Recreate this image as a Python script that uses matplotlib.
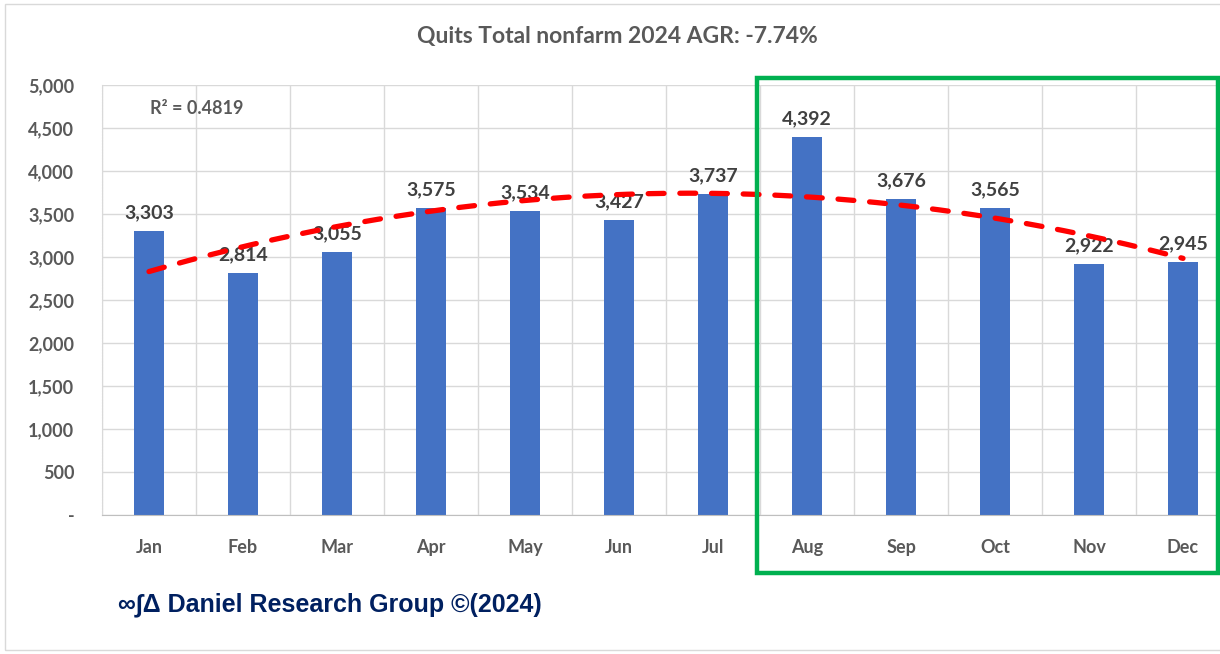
import matplotlib
matplotlib.use("Agg")
import matplotlib.pyplot as plt
import numpy as np
from matplotlib.patches import Rectangle
from matplotlib.ticker import FuncFormatter

# Chart data
months = ["Jan", "Feb", "Mar", "Apr", "May", "Jun", "Jul", "Aug", "Sep", "Oct", "Nov", "Dec"]
quits = [3303, 2814, 3055, 3575, 3534, 3427, 3737, 4392, 3676, 3565, 2922, 2945]
y_ticks = [0, 500, 1000, 1500, 2000, 2500, 3000, 3500, 4000, 4500, 5000]

title = "Quits Total nonfarm 2024 AGR: -7.74%"
r2_text = "R² = 0.4819"
footer = "∞∫Δ Daniel Research Group ©(2024)"

GRAY = "#595959"
BLUE = "#4472C4"
FONT = ["Lato", "DejaVu Sans"]

W, H = 1220, 654
fig = plt.figure(figsize=(W / 100, H / 100), dpi=100)
fig.patch.set_facecolor("white")


def px(x0, y0, x1, y1):
    # pixel box (top-left origin) -> figure fraction rect
    return [x0 / W, 1 - y1 / H, (x1 - x0) / W, (y1 - y0) / H]


ax = fig.add_axes(px(102, 85, 1230, 515))
x = np.arange(len(months))

ax.bar(x, quits, width=0.32, color=BLUE, zorder=2)

# polynomial (order 2) trendline, as in the spreadsheet
coef = np.polyfit(x + 1, quits, 2)
xs = np.linspace(0, len(months) - 1, 200)
trend = np.polyval(coef, xs + 1)
ax.plot(xs, trend, color="#FF0000", lw=3.8, linestyle=(0, (3.0, 3.0)),
        dash_capstyle="round", zorder=4)

for xi, v in zip(x, quits):
    ax.annotate(f"{v:,}", (xi, v), xytext=(0, 7), textcoords="offset points",
                ha="center", va="bottom", fontsize=14, fontweight="bold",
                color="#404040", family=FONT, zorder=3)

ax.set_xlim(-0.5, len(months) - 0.5)
ax.set_ylim(0, 5000)
ax.set_yticks(y_ticks)
ax.yaxis.set_major_formatter(FuncFormatter(lambda v, p: "-" if v == 0 else f"{int(v):,}"))
ax.set_xticks(x)
ax.set_xticklabels(months)

# gridlines between categories and at each y tick
ax.set_xticks(np.arange(-0.5, len(months)), minor=True)
ax.grid(axis="y", which="major", color="#D9D9D9", lw=1, zorder=0)
ax.grid(axis="x", which="minor", color="#D9D9D9", lw=1, zorder=0)
ax.tick_params(axis="both", which="both", length=0)
ax.tick_params(axis="x", pad=17)
ax.tick_params(axis="y", pad=20)
for lab in ax.get_xticklabels() + ax.get_yticklabels():
    lab.set_fontsize(13)
    lab.set_fontweight("bold")
    lab.set_color(GRAY)
    lab.set_family(FONT)

for s in ["top", "right"]:
    ax.spines[s].set_visible(False)
ax.spines["left"].set_color("#D9D9D9")
ax.spines["left"].set_linestyle(":")
ax.spines["bottom"].set_color("#BFBFBF")

fig.text(150 / W, 1 - 108 / H, r2_text, fontsize=13, fontweight="bold",
         color=GRAY, family=FONT, va="center", ha="left")

fig.text(617 / W, 1 - 37 / H, title, ha="center", va="center", fontsize=16.5,
         fontweight="bold", color=GRAY, family=FONT)

fig.text(118 / W, 1 - 605 / H, footer, ha="left", va="center", fontsize=18,
         fontweight="bold", color="#002060", family=["Liberation Sans", "DejaVu Sans"])

# highlight box for Aug-Dec
fig.patches.append(Rectangle((757 / W, 1 - 573 / H), (1218 - 757) / W, (573 - 78) / H,
                             transform=fig.transFigure, fill=False, edgecolor="#00B050",
                             lw=3.2, zorder=10))
# chart frame
fig.patches.append(Rectangle((5 / W, 1 - 650 / H), 1.0, (650 - 4) / H,
                             transform=fig.transFigure, fill=False, edgecolor="#D9D9D9",
                             lw=1, zorder=0))

fig.savefig("out.png", dpi=100)
